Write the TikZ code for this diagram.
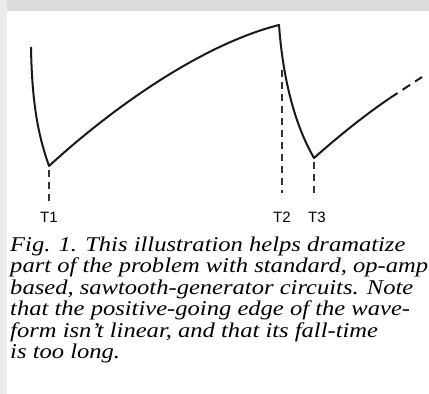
\documentclass[tikz,border=0pt]{standalone}
\usepackage{fontspec}
\setmainfont{Liberation Serif}
\setsansfont{Liberation Sans}
\begin{document}
\begin{tikzpicture}[x=1pt, y=-1pt, every node/.style={inner sep=0pt}]
  \useasboundingbox (0,0) rectangle (429,394);
  % Page scan background
  \fill[white] (0,0) rectangle (429,394);
  \fill[black!14] (0,0) rectangle (429,11);
  \fill[black!8] (0,0) rectangle (7,394);
  % Turning points of the waveform
  \coordinate (start) at (31,47);
  \coordinate (t1) at (49,166);
  \coordinate (peak) at (279,25);
  \coordinate (t3) at (314,158);
  \coordinate (solidend) at (390,98);
  \coordinate (dashend) at (422,77);
  % Waveform
  \draw[line width=2pt, black!90, line join=round]
    (start) .. controls (32,110) and (40,140) .. (t1)
    .. controls (110,110) and (200,45) .. (peak)
    .. controls (283,80) and (295,125) .. (t3)
    .. controls (340,135) and (365,115) .. (solidend);
  \draw[line width=2pt, black!90, dash pattern=on 9pt off 6pt] (solidend) -- (dashend);
  % Time markers
  \coordinate (t1top) at (49,170);
  \coordinate (t1bot) at (49,201);
  \coordinate (t2top) at (282,70);
  \coordinate (t2bot) at (282,193);
  \coordinate (t3top) at (314,162);
  \coordinate (t3bot) at (314,193);
  \draw[line width=1.2pt, black!80, dash pattern=on 7pt off 5pt] (t1top) -- (t1bot);
  \draw[line width=1.2pt, black!80, dash pattern=on 7pt off 5pt] (t2top) -- (t2bot);
  \draw[line width=1.2pt, black!80, dash pattern=on 7pt off 5pt] (t3top) -- (t3bot);
  % Marker labels
  \node[font=\sffamily\fontsize{15}{15}\selectfont] (lbl1) at (49,217) {T1};
  \node[font=\sffamily\fontsize{15}{15}\selectfont] (lbl2) at (282,217) {T2};
  \node[font=\sffamily\fontsize{15}{15}\selectfont] (lbl3) at (317,217) {T3};
  % Caption (base anchor sits on the last line)
  \node[anchor=base west, align=left, xscale=1.17, font=\itshape\fontsize{21}{21.5}\selectfont] (caption) at (10,358.5)
    {Fig. 1. This illustration helps dramatize\\
     part of the problem with standard, op-amp\\
     based, sawtooth-generator circuits. Note\\
     that the positive-going edge of the wave-\\
     form isn't linear, and that its fall-time\\
     is too long.};
\end{tikzpicture}
\end{document}
